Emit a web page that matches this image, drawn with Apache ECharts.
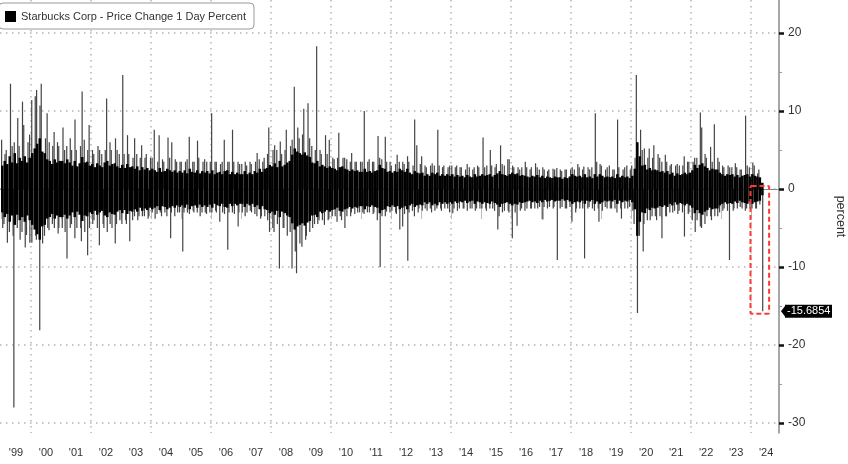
<!DOCTYPE html>
<html><head><meta charset="utf-8">
<script src="https://cdn.jsdelivr.net/npm/echarts@6/dist/echarts.min.js"></script>
<style>html,body{margin:0;padding:0;background:#fff;overflow:hidden}#c{width:848px;height:464px}</style>
</head><body><div id="c"></div><script>
const startYear = 1999;
const seriesName = 'Starbucks Corp - Price Change 1 Day Percent';
const yearLabels = ["'99","'00","'01","'02","'03","'04","'05","'06","'07","'08","'09","'10","'11","'12","'13","'14","'15","'16","'17","'18","'19","'20","'21","'22","'23","'24"];
const yTicks = [-30, -20, -10, 0, 10, 20];
const yMinorTicks = [-25, -15, -5, 5, 15];
const lastValue = -15.6854;

// largest daily % gain in each month (Jan 1999 .. May 2024)
const monthlyHigh = [
  6.3, 4.5, 5.0, 13.5, 5.5, 6.0, 9.1, 5.5, 11.2, 8.2, 6.0, 7.0,
  11.4, 11.9, 12.7, 10.7, 13.5, 6.5, 9.7, 6.0, 5.5, 7.3, 6.0, 5.5,
  7.9, 5.0, 5.5, 6.5, 5.0, 8.9, 5.0, 5.5, 12.5, 6.3, 5.0, 8.2,
  5.0, 4.5, 5.5, 5.0, 4.5, 5.0, 11.6, 6.0, 5.0, 6.5, 5.0, 4.5,
  14.6, 4.5, 6.9, 4.5, 4.0, 6.5, 4.5, 4.0, 5.6, 4.0, 4.5, 4.0,
  4.0, 7.6, 3.5, 6.9, 3.8, 3.5, 6.6, 4.0, 6.0, 3.8, 3.5, 3.5,
  3.5, 3.5, 3.8, 6.7, 3.5, 3.5, 6.2, 4.0, 3.5, 3.8, 3.5, 3.5,
  9.7, 3.5, 3.5, 3.2, 3.5, 6.3, 3.5, 3.5, 7.6, 3.5, 3.5, 3.2,
  3.2, 3.5, 3.0, 3.5, 3.2, 3.5, 4.6, 3.8, 3.5, 4.0, 4.5, 7.9,
  5.0, 5.6, 5.0, 6.1, 4.5, 5.0, 7.6, 5.5, 6.3, 13.1, 7.9, 6.5,
  7.0, 10.3, 11.0, 6.5, 5.5, 5.0, 18.3, 5.0, 4.5, 6.9, 4.5, 6.3,
  4.0, 3.8, 4.0, 7.2, 4.0, 4.0, 3.8, 3.5, 4.6, 3.5, 3.5, 3.5,
  3.5, 10.0, 3.5, 3.8, 3.5, 3.5, 6.8, 4.0, 3.8, 6.7, 3.5, 3.5,
  3.0, 3.2, 4.4, 3.5, 3.5, 3.2, 4.2, 3.5, 3.0, 8.9, 5.6, 3.2,
  4.2, 3.0, 2.8, 3.0, 3.3, 3.0, 7.6, 3.0, 2.8, 3.0, 2.8, 3.0,
  3.0, 2.8, 3.0, 2.8, 2.8, 2.5, 3.2, 2.8, 2.5, 2.8, 3.0, 2.8,
  6.6, 2.8, 3.0, 5.0, 3.0, 2.8, 3.2, 5.6, 3.2, 3.0, 3.8, 3.8,
  3.0, 2.8, 2.8, 2.5, 2.8, 3.5, 2.8, 2.5, 2.8, 3.3, 2.8, 2.5,
  2.8, 2.5, 2.3, 2.5, 2.6, 2.5, 2.7, 2.5, 2.3, 2.5, 2.5, 2.5,
  2.8, 2.5, 3.2, 2.8, 2.5, 2.9, 2.8, 2.5, 2.8, 9.7, 3.5, 3.2,
  3.0, 2.5, 2.8, 3.0, 2.5, 2.5, 8.9, 2.8, 2.5, 2.8, 3.0, 2.5,
  3.0, 4.0, 14.6, 7.6, 5.0, 5.2, 4.0, 5.2, 4.0, 5.6, 4.5, 4.0,
  3.5, 4.4, 3.5, 3.0, 3.2, 3.0, 3.2, 3.0, 3.0, 4.2, 3.5, 3.5,
  3.5, 4.0, 4.0, 9.8, 7.9, 4.5, 4.0, 5.4, 3.5, 8.3, 4.0, 3.5,
  3.0, 2.8, 3.0, 2.8, 2.8, 3.3, 2.8, 2.5, 2.5, 9.4, 3.0, 2.8,
  3.4, 3.0, 2.0, 2.5, 0
];

// largest daily % loss in each month
const monthlyLow = [
  -5.0, -4.5, -6.9, -5.5, -6.0, -28.0, -5.0, -6.5, -5.5, -7.5, -5.9, -6.9,
  -6.9, -6.0, -6.5, -18.1, -7.0, -6.0, -5.0, -5.3, -4.5, -5.0, -5.7, -5.0,
  -5.0, -5.5, -8.9, -5.0, -4.5, -6.3, -5.0, -5.0, -6.7, -5.5, -8.5, -5.0,
  -4.5, -4.0, -5.0, -7.2, -4.5, -5.0, -5.5, -4.5, -5.0, -7.0, -4.5, -4.0,
  -4.5, -4.0, -4.5, -6.7, -4.0, -3.5, -4.0, -3.5, -3.5, -3.5, -3.8, -3.5,
  -3.0, -3.8, -3.2, -3.0, -3.5, -3.0, -3.5, -6.3, -3.0, -3.5, -3.0, -3.0,
  -8.0, -3.0, -3.0, -3.2, -2.8, -3.0, -3.0, -3.5, -3.0, -3.0, -3.2, -3.0,
  -3.0, -2.8, -3.0, -4.2, -3.0, -3.2, -7.8, -3.0, -3.0, -3.2, -4.8, -3.0,
  -3.0, -3.5, -3.0, -2.8, -3.0, -3.2, -3.5, -3.8, -3.5, -3.5, -4.0, -5.5,
  -5.0, -5.5, -4.5, -10.2, -5.0, -5.0, -6.0, -5.5, -10.2, -8.0, -10.8, -7.0,
  -7.4, -6.5, -6.0, -5.5, -5.0, -4.5, -4.5, -4.0, -4.0, -4.6, -4.0, -3.8,
  -3.5, -3.5, -4.2, -3.5, -4.0, -5.0, -3.5, -3.5, -3.0, -3.2, -3.0, -3.0,
  -3.0, -3.2, -3.0, -3.0, -3.2, -3.0, -4.0, -10.0, -3.5, -3.5, -2.9, -3.0,
  -2.8, -3.0, -3.2, -5.2, -4.8, -3.2, -9.2, -3.0, -2.8, -3.5, -3.0, -2.5,
  -2.8, -2.5, -2.8, -2.5, -3.0, -2.8, -2.5, -2.5, -2.8, -2.5, -2.5, -3.0,
  -3.1, -2.5, -2.8, -2.5, -2.5, -2.5, -2.8, -2.5, -2.5, -2.8, -2.5, -2.5,
  -2.5, -2.5, -2.8, -2.5, -2.5, -2.8, -5.2, -3.5, -3.0, -2.8, -2.8, -3.0,
  -6.3, -3.0, -4.7, -2.8, -2.5, -2.8, -2.5, -2.5, -2.5, -2.5, -2.5, -2.3,
  -3.9, -2.3, -2.5, -2.3, -2.5, -2.3, -9.1, -2.5, -2.3, -2.5, -2.5, -2.3,
  -4.2, -3.0, -2.5, -2.5, -2.5, -8.9, -2.5, -2.3, -2.5, -2.8, -2.5, -4.2,
  -2.8, -2.3, -2.5, -2.5, -2.5, -2.5, -3.0, -2.5, -3.8, -2.5, -2.5, -2.3,
  -2.8, -4.5, -15.9, -6.0, -8.0, -4.5, -4.0, -4.0, -3.5, -3.5, -4.0, -3.5,
  -6.3, -3.5, -3.5, -3.0, -3.0, -2.8, -3.2, -2.8, -3.0, -6.1, -3.2, -3.0,
  -4.0, -5.5, -4.0, -4.8, -5.0, -4.5, -3.5, -3.5, -4.0, -3.5, -3.5, -3.0,
  -2.8, -2.5, -2.8, -9.1, -2.8, -2.5, -2.5, -2.3, -2.5, -2.8, -2.5, -2.5,
  -2.5, -2.5, -2.5, -2.0, lastValue
];

// typical (dense) daily move range in each month, +/- percent
const coreBand = [
  3.0, 3.6, 3.2, 4.2, 3.4, 4.6, 3.3, 4.0, 3.6, 4.2, 3.4, 4.0,
  4.6, 5.2, 5.8, 6.5, 4.8, 4.6, 3.8, 3.6, 3.2, 3.8, 3.4, 3.6,
  3.6, 3.3, 3.8, 3.4, 3.0, 3.6, 2.9, 3.3, 4.1, 3.4, 3.5, 3.0,
  3.2, 2.8, 3.3, 3.0, 2.8, 3.4, 3.6, 3.0, 3.2, 3.3, 2.9, 2.7,
  3.1, 2.7, 3.2, 2.8, 2.9, 2.6, 2.9, 2.4, 2.8, 2.5, 2.7, 2.4,
  2.6, 2.4, 2.2, 2.7, 2.2, 2.3, 2.6, 2.4, 2.2, 2.4, 2.1, 2.3,
  2.1, 2.4, 2.0, 2.6, 2.2, 2.1, 2.4, 2.0, 2.3, 2.1, 2.3, 2.0,
  2.4, 1.9, 2.1, 2.2, 1.9, 2.3, 2.4, 1.9, 2.2, 1.9, 2.1, 1.9,
  1.9, 2.3, 1.9, 2.1, 1.9, 2.3, 2.1, 2.6, 2.2, 2.6, 2.7, 3.1,
  2.9, 3.3, 2.8, 3.6, 2.9, 3.1, 3.4, 3.6, 4.4, 5.2, 4.8, 4.6,
  4.4, 4.7, 4.3, 4.1, 3.4, 3.3, 3.6, 2.9, 3.1, 2.9, 2.7, 2.9,
  2.7, 2.6, 2.4, 2.8, 2.9, 2.6, 2.5, 2.3, 2.5, 2.3, 2.4, 2.2,
  2.2, 2.6, 2.2, 2.3, 2.1, 2.3, 2.4, 3.1, 2.7, 2.6, 2.2, 2.3,
  2.1, 2.3, 2.2, 2.6, 2.4, 2.2, 2.6, 2.1, 1.9, 2.3, 2.1, 2.0,
  2.1, 1.7, 1.9, 1.7, 2.1, 1.9, 2.1, 1.7, 1.9, 1.7, 1.9, 1.7,
  1.9, 1.6, 1.8, 1.6, 1.7, 1.5, 1.8, 1.6, 1.5, 1.9, 1.6, 1.7,
  1.9, 1.7, 1.8, 1.9, 1.6, 1.8, 2.0, 2.3, 1.9, 1.8, 1.7, 1.9,
  2.1, 1.9, 2.0, 1.7, 1.8, 1.7, 1.6, 1.5, 1.7, 1.6, 1.8, 1.5,
  1.7, 1.4, 1.6, 1.5, 1.4, 1.6, 1.5, 1.5, 1.3, 1.5, 1.4, 1.6,
  1.9, 1.7, 1.6, 1.7, 1.5, 1.9, 1.5, 1.6, 1.4, 1.9, 1.6, 1.9,
  1.7, 1.5, 1.6, 1.5, 1.6, 1.4, 1.9, 1.5, 1.7, 1.5, 1.6, 1.4,
  1.7, 2.6, 6.0, 4.2, 3.0, 3.1, 2.5, 2.7, 2.4, 2.5, 2.4, 2.2,
  2.3, 2.1, 2.3, 1.9, 2.1, 1.7, 2.0, 1.8, 1.9, 2.1, 1.9, 2.1,
  2.4, 3.1, 2.7, 3.1, 3.3, 2.9, 2.7, 2.4, 2.6, 2.5, 2.5, 2.1,
  1.9, 1.7, 1.9, 1.8, 1.9, 1.6, 1.8, 1.5, 1.7, 1.8, 1.9, 1.6,
  1.9, 1.7, 1.6, 1.5, 0.8
];

// where inside its month each extreme-move line is drawn (fraction of the month), cycled
const highPlace = [0.25, 0.6, 0.1, 0.8, 0.45, 0.3, 0.7];
const lowPlace = [0.7, 0.2, 0.55, 0.35, 0.85, 0.15, 0.5, 0.65, 0.4];

const FONT = 'Liberation Sans';
const monthX = i => startYear + (i + 0.5) / 12;
const spikeData = monthlyHigh.map((h, i) => [monthX(i), h, monthlyLow[i], highPlace[i % highPlace.length], lowPlace[i % lowPlace.length]]);
const coreData = coreBand.map((c, i) => [monthX(i), c, -c]);
const yearTicks = yearLabels.map((_, k) => startYear + k);
const yearMid = yearTicks.map(y => y + 0.5);
const gridYears = yearTicks.filter(y => y % 2 === 0);
const xMin = 1998.967, xMax = 2024.93;
const yMin = -31.28, yMax = 24.23;

const chart = echarts.init(document.getElementById('c'), null, {renderer: 'canvas'});
const dotted = {color: '#b4b4b4', width: 1.5, type: [1.5, 4.5]};

const baseX = {type: 'value', min: xMin, max: xMax, position: 'bottom', gridIndex: 0};
chart.setOption({
  animation: false,
  backgroundColor: '#fff',
  grid: {left: 0, right: 69, top: 0, bottom: 31, containLabel: false, outerBoundsMode: 'none'},
  legend: {
    data: [seriesName], left: -1, top: 3, icon: 'rect', itemWidth: 11, itemHeight: 11,
    backgroundColor: '#fff', borderColor: '#9a9a9a', borderWidth: 1, borderRadius: 4,
    padding: [8, 8, 7, 6], z: 10,
    textStyle: {fontFamily: FONT, fontSize: 11, color: '#333'}
  },
  xAxis: [
    Object.assign({}, baseX, {
      axisLine: {show: true, lineStyle: {color: '#888', width: 1}},
      axisTick: {show: true, customValues: yearTicks, length: 30, lineStyle: {color: '#bbb'}},
      axisLabel: {show: false},
      splitLine: {show: false}
    }),
    Object.assign({}, baseX, {
      axisLine: {show: false},
      axisTick: {show: false, customValues: yearMid},
      axisLabel: {show: true, customValues: yearMid, margin: 14,
        formatter: v => yearLabels[Math.round(v - 0.5) - startYear] || '',
        fontFamily: FONT, fontSize: 11, color: '#333'},
      splitLine: {show: false}
    }),
    Object.assign({}, baseX, {
      axisLine: {show: false},
      axisTick: {show: false, customValues: gridYears},
      axisLabel: {show: false, customValues: gridYears},
      splitLine: {show: true, lineStyle: dotted}
    })
  ],
  yAxis: [
    {
      type: 'value', position: 'right', min: yMin, max: yMax,
      axisLine: {show: true, lineStyle: {color: '#8a8a8a', width: 1.5}},
      axisTick: {show: true, customValues: yTicks, length: 5, lineStyle: {color: '#111', width: 2.5}},
      axisLabel: {show: true, customValues: yTicks, margin: 9, fontFamily: FONT, fontSize: 12, color: '#333'},
      splitLine: {show: true, lineStyle: dotted},
      name: 'percent', nameLocation: 'middle', nameRotate: -90, nameGap: 55,
      nameTextStyle: {fontFamily: FONT, fontSize: 12.5, color: '#333'}
    },
    {
      type: 'value', position: 'right', min: yMin, max: yMax,
      axisLine: {show: false},
      axisTick: {show: true, customValues: yMinorTicks, length: 3, lineStyle: {color: '#999', width: 1}},
      axisLabel: {show: false, customValues: yMinorTicks},
      splitLine: {show: false}
    }
  ],
  series: [
    {
      type: 'custom', name: 'core', xAxisIndex: 0, yAxisIndex: 0, silent: true, z: 3,
      encode: {x: 0, y: [1, 2]},
      data: coreData,
      renderItem: (params, api) => {
        const x = api.value(0);
        const p0 = api.coord([x - 1 / 24, api.value(1)]);
        const p1 = api.coord([x + 1 / 24, api.value(2)]);
        return {type: 'rect', shape: {x: p0[0], y: p0[1], width: p1[0] - p0[0], height: p1[1] - p0[1]},
          style: {fill: '#000'}};
      }
    },
    {
      type: 'custom', name: seriesName, xAxisIndex: 0, yAxisIndex: 0, silent: true, z: 2,
      itemStyle: {color: '#000'},
      encode: {x: 0, y: [1, 2]},
      data: spikeData,
      renderItem: (params, api) => {
        const x0 = api.value(0) - 0.5 / 12;
        const kids = [];
        const hi = api.value(1), lo = api.value(2);
        const xh = x0 + api.value(3) / 12, xl = x0 + api.value(4) / 12;
        if (hi > 0) {
          const a = api.coord([xh, 0]), b = api.coord([xh, hi]);
          kids.push({type: 'line', shape: {x1: a[0], y1: a[1], x2: b[0], y2: b[1]}, style: {stroke: '#444', lineWidth: 1.2}});
        }
        if (lo < 0) {
          const a = api.coord([xl, 0]), b = api.coord([xl, lo]);
          kids.push({type: 'line', shape: {x1: a[0], y1: a[1], x2: b[0], y2: b[1]}, style: {stroke: '#444', lineWidth: 1.2}});
        }
        return {type: 'group', children: kids};
      }
    }
  ]
});

// annotation: red dashed box around the latest move and the value tag on the axis
const boxA = chart.convertToPixel({xAxisIndex: 0, yAxisIndex: 0}, [2023.98, 0.4]);
const boxB = chart.convertToPixel({xAxisIndex: 0, yAxisIndex: 0}, [2024.6, lastValue - 0.3]);
const tagY = chart.convertToPixel({yAxisIndex: 0}, lastValue);
const axisX = chart.convertToPixel({xAxisIndex: 0}, xMax);
chart.setOption({
  graphic: [
    {type: 'rect', z: 20, shape: {x: boxA[0], y: boxA[1], width: boxB[0] - boxA[0], height: boxB[1] - boxA[1], r: 1},
      style: {fill: 'none', stroke: '#ff3b30', lineWidth: 2, lineDash: [5, 3]}},
    {type: 'polygon', z: 20, shape: {points: [[axisX + 2, tagY], [axisX + 7, tagY - 6.5], [axisX + 7, tagY + 6.5]]}, style: {fill: '#000'}},
    {type: 'rect', z: 20, shape: {x: axisX + 6, y: tagY - 6.5, width: 47, height: 13}, style: {fill: '#000'}},
    {type: 'text', z: 21, x: axisX + 8, y: tagY, style: {text: lastValue.toFixed(4), fill: '#fff', font: '11px ' + FONT, verticalAlign: 'middle', align: 'left'}}
  ]
});
</script></body></html>
